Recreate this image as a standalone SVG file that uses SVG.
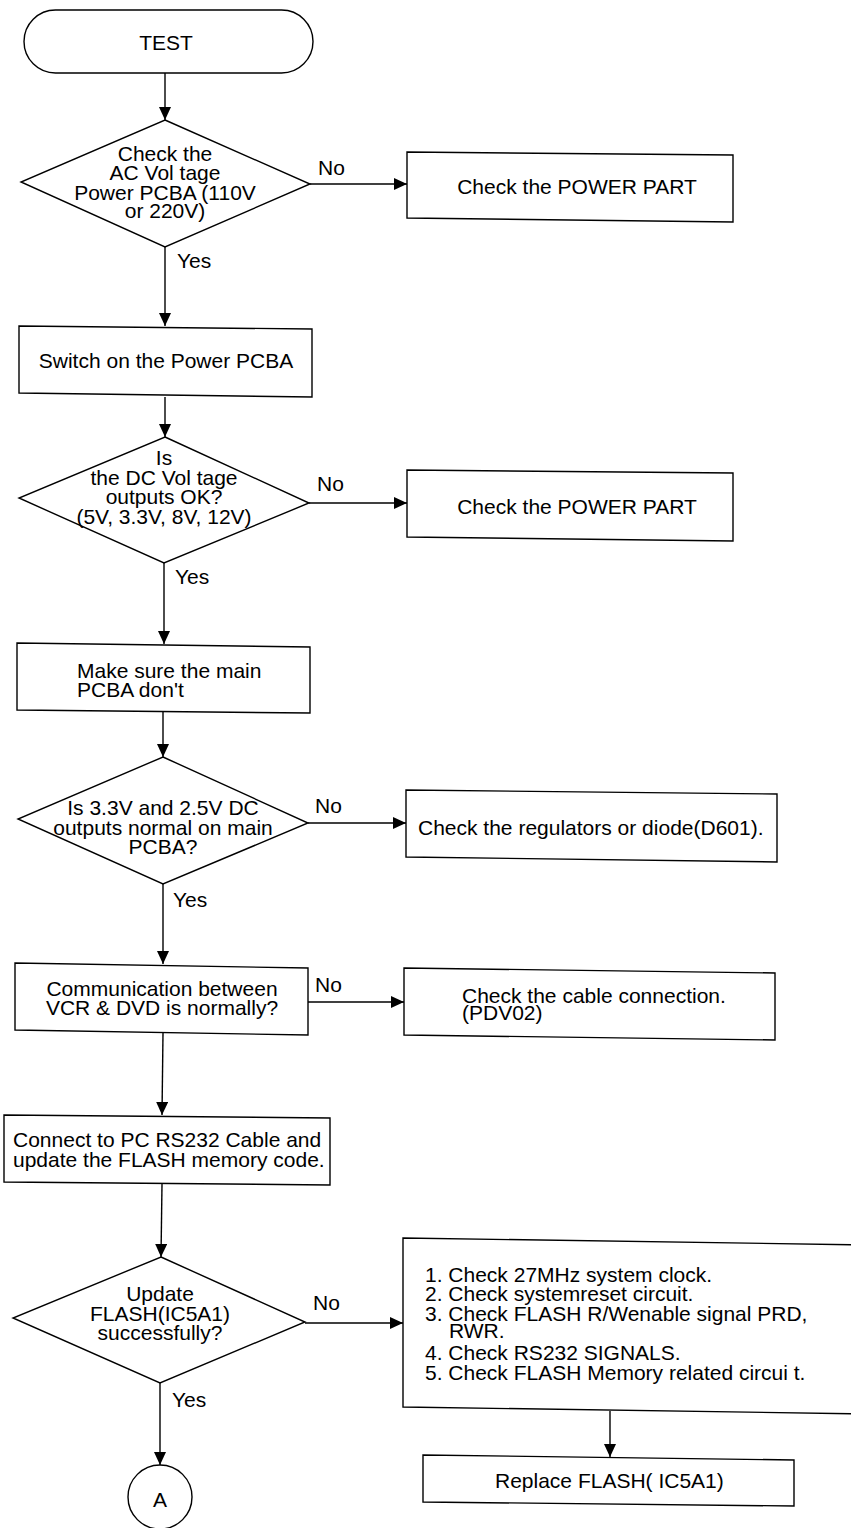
<svg xmlns="http://www.w3.org/2000/svg" width="851" height="1528" viewBox="0 0 851 1528">
  <defs>
    <marker id="arrow" markerUnits="userSpaceOnUse" markerWidth="14" markerHeight="12" refX="13" refY="6" orient="auto">
      <path d="M0,0 L13,6 L0,12 Z" fill="#000"/>
    </marker>
    <style>
      .shape { fill: none; stroke: #000; stroke-width: 1.4; stroke-linejoin: miter; }
      .edge { fill: none; stroke: #000; stroke-width: 1.4; marker-end: url(#arrow); }
      text { font-family: "Liberation Sans", Arial, Helvetica, sans-serif; font-size: 21px; fill: #000; }
      .c { text-anchor: middle; }
    </style>
  </defs>
  <rect width="851" height="1528" fill="#fff"/>

  <!-- connectors -->
  <g id="connectors">
    <path class="edge" d="M165,73 L165,120"/>
    <path class="edge" d="M310,184 L407,184"/>
    <path class="edge" d="M165,247 L165,326"/>
    <path class="edge" d="M165,397 L165,437"/>
    <path class="edge" d="M309,503 L407,503"/>
    <path class="edge" d="M164,563 L164,644"/>
    <path class="edge" d="M163,712 L163,757"/>
    <path class="edge" d="M308,823 L406,823"/>
    <path class="edge" d="M163,884 L163,964"/>
    <path class="edge" d="M308,1002 L404,1002"/>
    <path class="edge" d="M163,1033 L162,1115"/>
    <path class="edge" d="M162,1184 L161,1257"/>
    <path class="edge" d="M305,1323 L403,1323"/>
    <path class="edge" d="M160,1383 L160,1465"/>
    <path class="edge" d="M610,1411 L610,1457"/>
    <text x="318" y="175">No</text>
    <text x="177" y="268">Yes</text>
    <text x="317" y="491">No</text>
    <text x="175" y="584">Yes</text>
    <text x="315" y="813">No</text>
    <text x="173" y="907">Yes</text>
    <text x="315" y="992">No</text>
    <text x="313" y="1310">No</text>
    <text x="172" y="1407">Yes</text>
  </g>

  <!-- start terminal -->
  <g id="test">
    <rect class="shape" x="24" y="10" width="289" height="63" rx="31.5"/>
    <text class="c" x="166" y="50">TEST</text>
  </g>

  <!-- AC voltage decision -->
  <g id="check-ac">
    <polygon class="shape" points="165,120 310,184 165,247 21,182"/>
    <text class="c"><tspan x="165" y="161">Check the</tspan><tspan x="165" y="180">AC Vol tage</tspan><tspan x="165" y="200">Power PCBA (110V</tspan><tspan x="165" y="218">or 220V)</tspan></text>
  </g>

  <g id="power-part-1">
    <polygon class="shape" points="407,152 733,155 733,222 407,218"/>
    <text class="c" x="577" y="194">Check the POWER PART</text>
  </g>

  <g id="switch-on">
    <polygon class="shape" points="19,326 312,329 312,397 19,393"/>
    <text class="c" x="166" y="368">Switch on the Power PCBA</text>
  </g>

  <!-- DC voltage decision -->
  <g id="check-dc">
    <polygon class="shape" points="165,437 309,503 164,563 19,498"/>
    <text class="c"><tspan x="164" y="465">Is</tspan><tspan x="164" y="485">the DC Vol tage</tspan><tspan x="164" y="504">outputs OK?</tspan><tspan x="164" y="524">(5V, 3.3V, 8V, 12V)</tspan></text>
  </g>

  <g id="power-part-2">
    <polygon class="shape" points="407,470 733,473 733,541 407,537"/>
    <text class="c" x="577" y="514">Check the POWER PART</text>
  </g>

  <g id="main-pcba">
    <polygon class="shape" points="17,643 310,647 310,713 17,710"/>
    <text><tspan x="77" y="678">Make sure the main</tspan><tspan x="77" y="697">PCBA don't</tspan></text>
  </g>

  <!-- main board rails decision -->
  <g id="check-rails">
    <polygon class="shape" points="163,757 308,823 163,884 18,819"/>
    <text class="c"><tspan x="163" y="815">Is 3.3V and 2.5V DC</tspan><tspan x="163" y="835">outputs normal on main</tspan><tspan x="163" y="854">PCBA?</tspan></text>
  </g>

  <g id="regulators">
    <polygon class="shape" points="406,790 777,794 777,862 406,857"/>
    <text x="418" y="835">Check the regulators or diode(D601).</text>
  </g>

  <g id="communication">
    <polygon class="shape" points="15,963 308,968 308,1035 15,1030"/>
    <text class="c"><tspan x="162" y="996">Communication between</tspan><tspan x="162" y="1015">VCR &amp; DVD is normally?</tspan></text>
  </g>

  <g id="cable">
    <polygon class="shape" points="404,968 775,973 775,1040 404,1035"/>
    <text><tspan x="462" y="1003">Check the cable connection.</tspan><tspan x="462" y="1020">(PDV02)</tspan></text>
  </g>

  <g id="rs232-update">
    <polygon class="shape" points="4,1115 330,1118 330,1185 4,1182"/>
    <text><tspan x="13" y="1147">Connect to PC RS232 Cable and</tspan><tspan x="13" y="1167">update the FLASH memory code.</tspan></text>
  </g>

  <!-- flash update decision -->
  <g id="check-flash">
    <polygon class="shape" points="161,1257 305,1322 160,1383 13,1318"/>
    <text class="c"><tspan x="160" y="1301">Update</tspan><tspan x="160" y="1321">FLASH(IC5A1)</tspan><tspan x="160" y="1340">successfully?</tspan></text>
  </g>

  <g id="flash-checklist">
    <polygon class="shape" points="403,1238 870,1245 870,1414 403,1407"/>
    <text>
      <tspan x="425" y="1282">1. Check 27MHz system clock.</tspan>
      <tspan x="425" y="1301">2. Check systemreset circuit.</tspan>
      <tspan x="425" y="1321">3. Check FLASH R/Wenable signal PRD,</tspan>
      <tspan x="449" y="1338">RWR.</tspan>
      <tspan x="425" y="1360">4. Check RS232 SIGNALS.</tspan>
      <tspan x="425" y="1380">5. Check FLASH Memory related circui t.</tspan>
    </text>
  </g>

  <g id="replace-flash">
    <polygon class="shape" points="423,1455 794,1460 794,1506 423,1502"/>
    <text x="495" y="1488">Replace FLASH( IC5A1)</text>
  </g>

  <!-- off-page connector -->
  <g id="connector-a">
    <circle class="shape" cx="160" cy="1497" r="32"/>
    <text class="c" x="160" y="1507">A</text>
  </g>
</svg>
